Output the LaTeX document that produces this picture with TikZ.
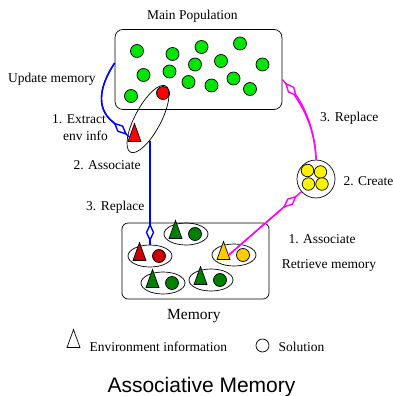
\documentclass[tikz,border=0pt]{standalone}
\usepackage{fontspec}
\setmainfont{Liberation Serif}
\setsansfont{Liberation Sans}
\usetikzlibrary{shapes.geometric}
\usetikzlibrary{arrows.meta}

\definecolor{popgreen}{RGB}{0,230,0}
\definecolor{memgreen}{RGB}{0,128,0}
\definecolor{memred}{RGB}{204,0,0}
\definecolor{gold}{RGB}{255,204,0}
\definecolor{linkblue}{RGB}{0,0,255}
\definecolor{linkmag}{RGB}{255,0,255}

\tikzset{
  sol/.style={circle,draw,line width=0.7pt,inner sep=0pt,minimum size=13pt,fill=#1},
  env/.style={isosceles triangle,isosceles triangle stretches,shape border rotate=90,
    draw,line width=0.7pt,inner sep=0pt,minimum width=13pt,minimum height=18pt,fill=#1},
  pair/.style={ellipse,draw,line width=0.7pt,minimum width=44pt,minimum height=22pt},
  lbl/.style={font=\fontsize{13.5}{15}\selectfont,inner sep=0pt,anchor=base west},
  link/.style={line width=1.4pt,color=#1},
  % diamond head sitting a little before the end of the line
  tipat/.style={postaction={draw,-{Diamond[fill=white,length=18.5pt,width=8.5pt]},shorten >=#1}},
}

\begin{document}
\begin{tikzpicture}[x=1pt,y=-1pt]
  \useasboundingbox (0,0) rectangle (393,396);

  % main population
  \node[lbl] (tpop) at (147,19.5) {Main Population};
  \node[draw,line width=0.7pt,rounded corners=8pt,minimum width=167pt,minimum height=80pt] (pop) at (198.5,69.5) {};
  \foreach \x/\y [count=\i] in {137/51, 172.5/54, 201.5/47, 240/43.5, 143.5/75, 169.5/71.5, 195/64.5,
      221/61, 262.5/64.5, 131/96, 188.5/82, 211.5/85.5, 233.5/78.5, 250/89}
    \node[sol=popgreen] (g\i) at (\x,\y) {};
  \node[sol=red] (best) at (163,93) {};

  % extracted individual with its env info
  \node[ellipse,draw,line width=0.7pt,minimum width=75pt,minimum height=26pt,rotate=62] (ext) at (148,119) {};
  \node[env=red] (etri) at (134.5,137) {};
  \node[lbl] at (52,123.3) {1. Extract};
  \node[lbl] at (63,140.7) {env info};
  \node[lbl] at (8,82.5) {Update memory};
  \node[lbl] at (73.3,169) {2. Associate};
  \node[lbl] at (86,210.7) {3. Replace};

  % memory
  \node[draw,line width=0.7pt,rounded corners=6pt,minimum width=147pt,minimum height=76pt] (mem) at (195.5,261) {};
  \foreach \n/\x/\y/\c in {a/186/234/memgreen, b/150/256/memred, c/234/255/gold,
      d/163/283/memgreen, e/211/280/memgreen}{
    \node[pair] (m\n) at (\x,\y) {};
    \node[env=\c] (t\n) at ([xshift=-10.5pt]m\n.center) {};
    \node[sol=\c] (s\n) at ([xshift=9pt]m\n.center) {};
  }
  \node[lbl,font=\fontsize{15.5}{18}\selectfont] at (167,319.3) {Memory};

  % new solutions
  \node[circle,draw,line width=0.7pt,inner sep=0pt,minimum size=38pt] (create) at (316,179) {};
  \foreach \x/\y [count=\i] in {307.5/170.5, 320.5/172, 308.5/184, 322/184}
    \node[sol=yellow,minimum size=12.5pt] (y\i) at (\x,\y) {};
  \node[lbl] at (343.3,185) {2. Create};
  \node[lbl] at (320,121) {3. Replace};
  \node[lbl] at (288.3,243.3) {1. Associate};
  \node[lbl] at (281.7,268) {Retrieve memory};

  % links
  \draw[link=linkblue,tipat=3pt] ([yshift=6.5pt]pop.west) .. controls (100,85) and (95,108) .. (113,122) -- (etri.west);
  \draw[link=linkblue,tipat=3pt] (mb.north |- ext.212) -- (mb.north);
  \draw[link=linkmag,tipat=6pt] (tc.east) -- (create);
  \draw[link=linkmag,tipat=4pt] (create.north) .. controls (315,125) and (300,100) .. ([yshift=-10pt]pop.east);

  % legend
  \node[env=white] (keyenv) at (73.5,343) {};
  \node[lbl] at (89.3,351.7) {Environment information};
  \node[sol=white] (keysol) at (262.5,345.5) {};
  \node[lbl] at (278.3,351.7) {Solution};

  \node[font=\sffamily\fontsize{21}{25}\selectfont,inner sep=0pt,anchor=base] (title) at (201.5,392.3) {Associative Memory};
\end{tikzpicture}
\end{document}
